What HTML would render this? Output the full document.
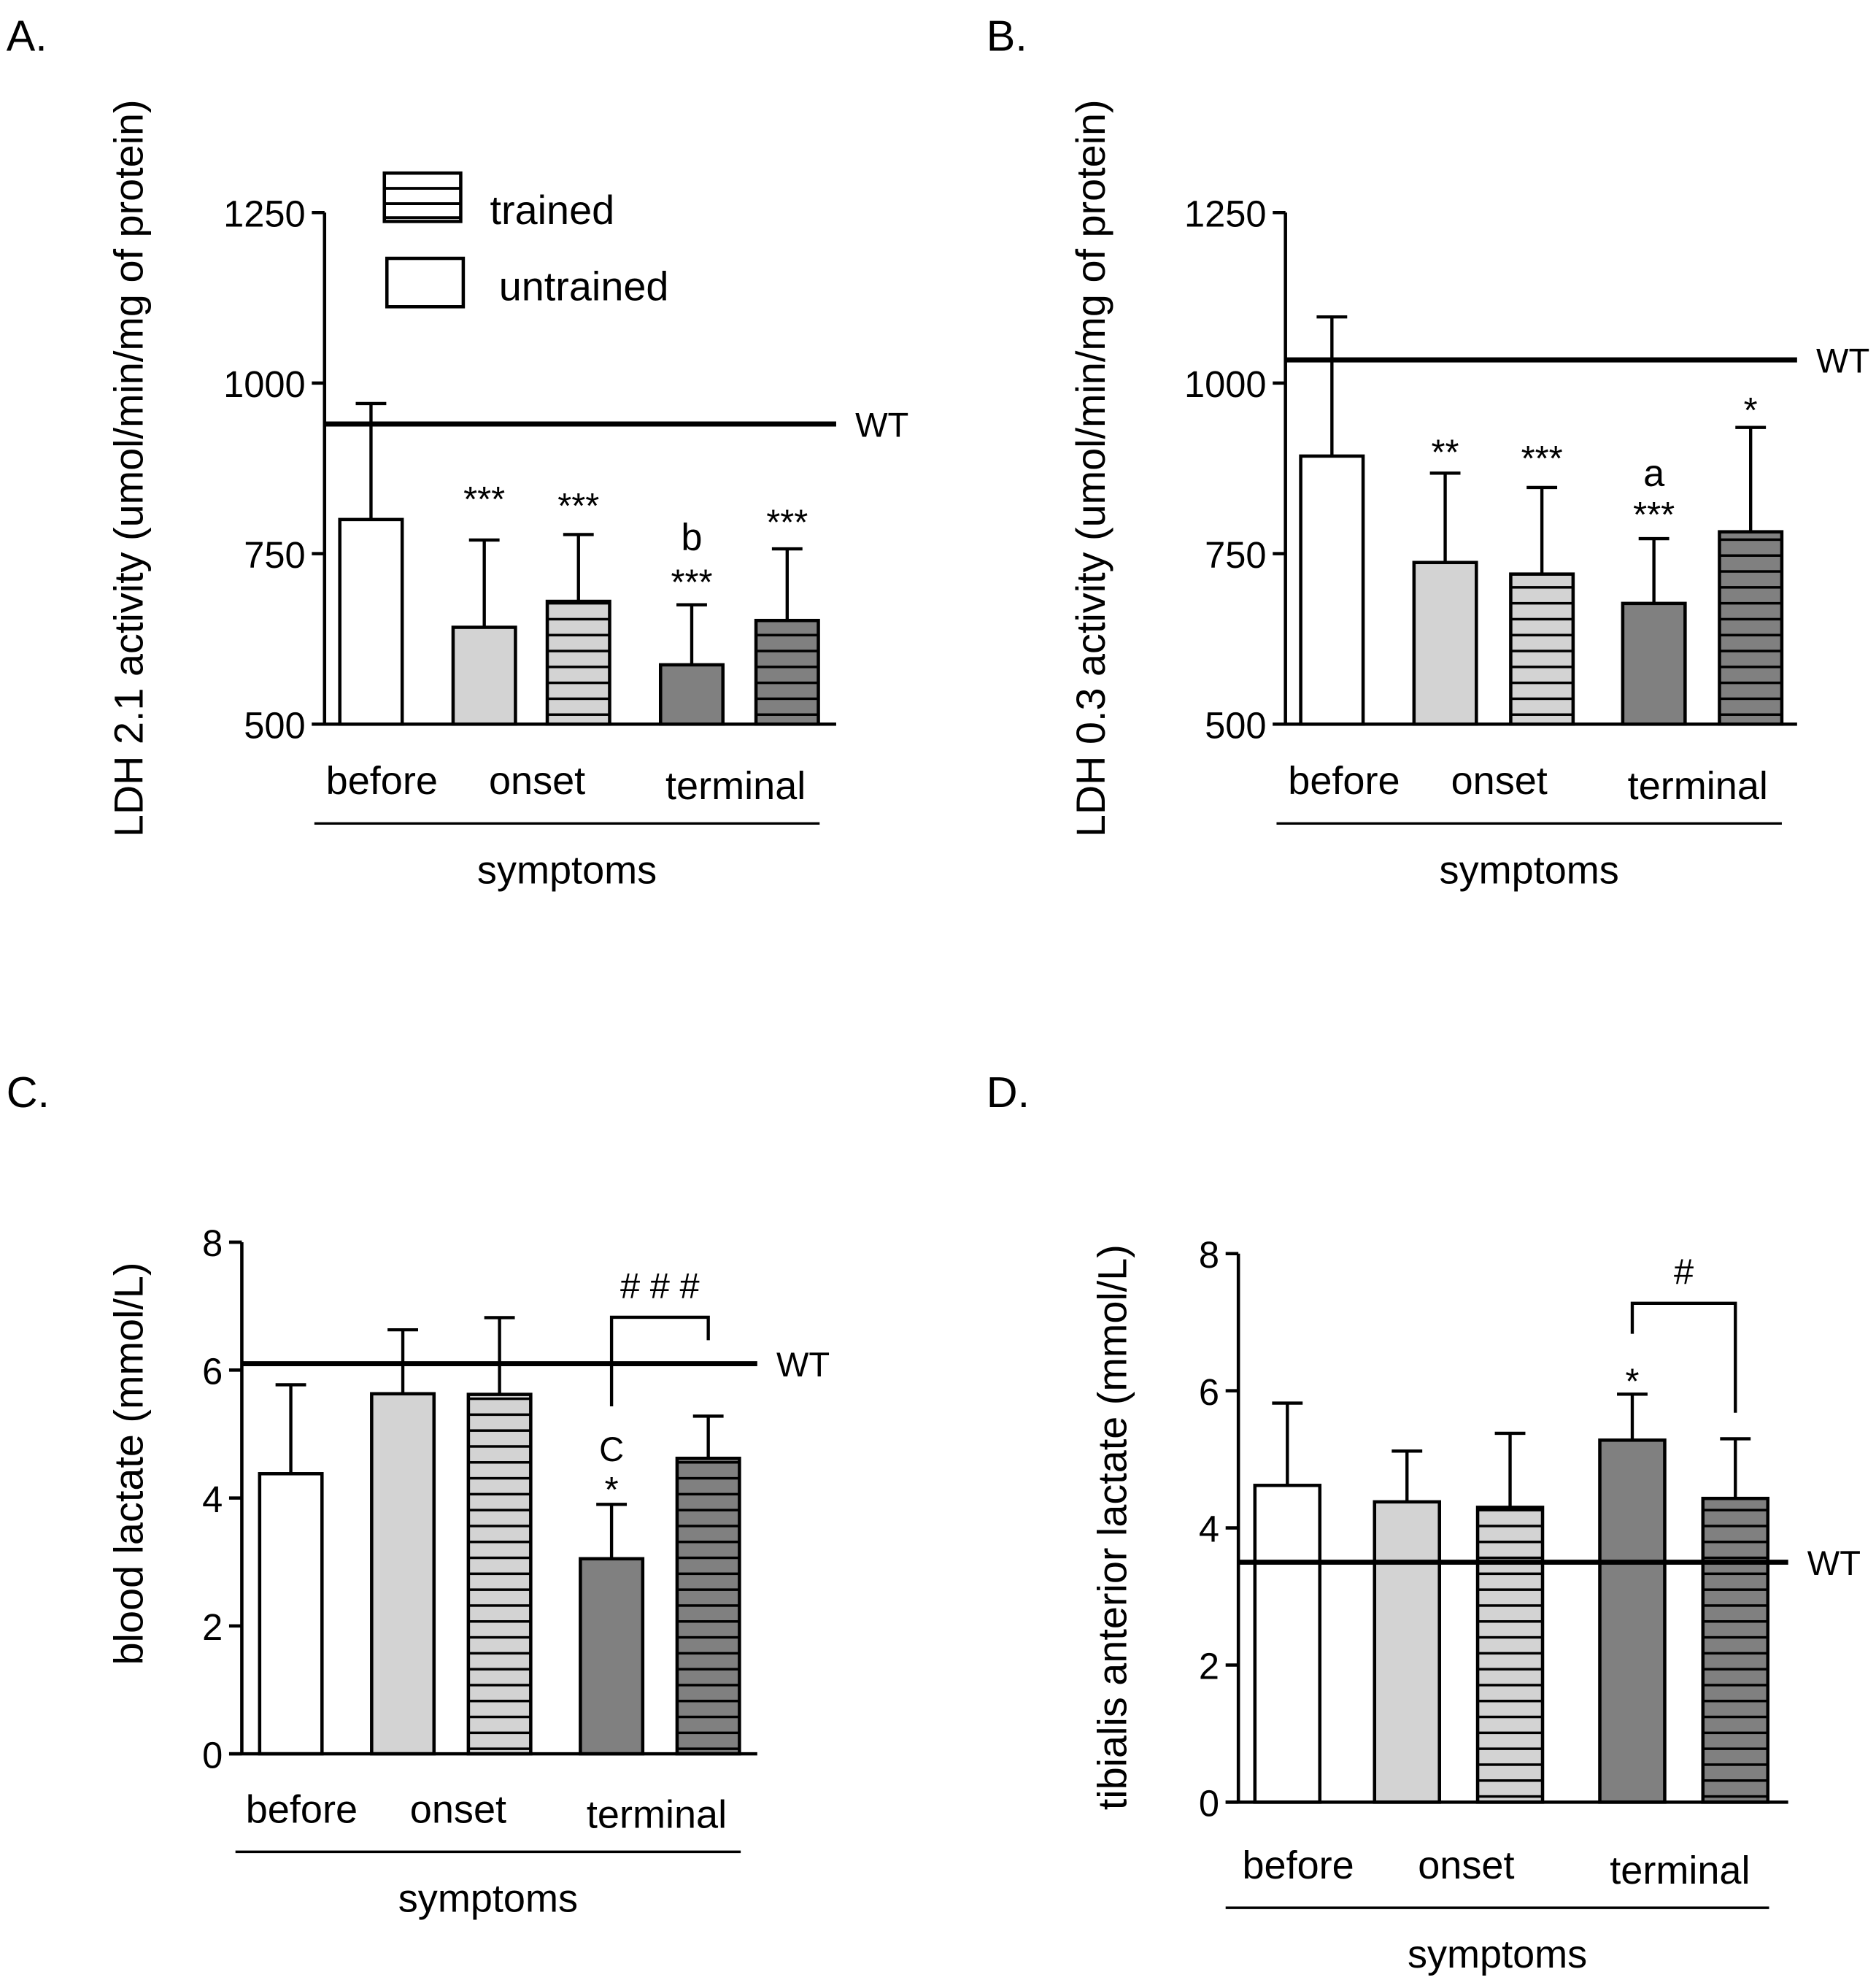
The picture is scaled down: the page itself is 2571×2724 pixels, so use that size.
<!DOCTYPE html>
<html><head><meta charset="utf-8"><style>
html,body{margin:0;padding:0;background:#fff;}
svg{display:block;font-family:"Liberation Sans",Arial,sans-serif;}
</style></head><body>
<svg id="fig" xmlns="http://www.w3.org/2000/svg" width="2571" height="2724" viewBox="0 0 1474 1562" preserveAspectRatio="none">
<defs>
<pattern id="hatchLight" patternUnits="userSpaceOnUse" width="10" height="12.5"><rect width="10" height="12.5" fill="#d3d3d3"/><line x1="0" y1="11.5" x2="10" y2="11.5" stroke="#000" stroke-width="2"/></pattern>
<pattern id="hatchDark" patternUnits="userSpaceOnUse" width="10" height="12.5"><rect width="10" height="12.5" fill="#808080"/><line x1="0" y1="11.5" x2="10" y2="11.5" stroke="#000" stroke-width="2"/></pattern>
</defs>
<g id="root"></g>
</svg>
<script>
// Panel A data
const aValues = [800, 642, 680, 587, 652];
const aErrors = [970, 770, 778, 675, 757];
const aWT = 940;
const aTicks = [500, 750, 1000, 1250];
// Panel B data
const bValues = [893, 737, 720, 677, 782];
const bErrors = [1097, 868, 847, 772, 935];
const bWT = 1034;
const bTicks = [500, 750, 1000, 1250];
// Panel C data
const cValues = [4.38, 5.63, 5.62, 3.05, 4.62];
const cErrors = [5.77, 6.63, 6.82, 3.9, 5.28];
const cWT = 6.1;
const cTicks = [0, 2, 4, 6, 8];
// Panel D data
const dValues = [4.62, 4.38, 4.3, 5.28, 4.43];
const dErrors = [5.82, 5.12, 5.38, 5.95, 5.3];
const dWT = 3.5;
const dTicks = [0, 2, 4, 6, 8];
const categories = ["before", "onset", "terminal"];
const fills = ["#ffffff", "#d3d3d3", "url(#hatchLight)", "#808080", "url(#hatchDark)"];

const NS = "http://www.w3.org/2000/svg";
const root = document.getElementById("root");
function mk(tag, attrs, parent) {
  const e = document.createElementNS(NS, tag);
  for (const k in attrs) e.setAttribute(k, attrs[k]);
  (parent || root).appendChild(e);
  return e;
}
function txt(s, x, y, size, anchor, parent) {
  const t = mk("text", {x: x, y: y, "font-size": size, "text-anchor": anchor || "middle", fill: "#000"}, parent);
  t.textContent = s;
  return t;
}

function panel(cfg) {
  const g = mk("g", {});
  
  
  const yScale = v => cfg.y0 - (v - cfg.vmin) / (cfg.vmax - cfg.vmin) * (cfg.y0 - cfg.y1);
  const L = txt(cfg.letter, cfg.letterX, cfg.letterY, 34, "start", g);
  
  
  const yt = txt(cfg.title, 0, 0, 32, "middle", g);
  yt.setAttribute("transform", "translate(" + cfg.titleX + "," + cfg.titleY + ") rotate(-90)");
  
  
  cfg.values.forEach((v, i) => {
    const x = cfg.barX[i], w = cfg.barW;
    const ye = yScale(cfg.errors[i]);
    const er = mk("path", {d: "M" + (x + w / 2) + "," + yScale(v) + "V" + ye + "M" + (x + w / 2 - 12) + "," + ye + "H" + (x + w / 2 + 12), stroke: "#000", "stroke-width": 2.5, fill: "none"}, g);
    
    
    const r = mk("rect", {x: x, y: yScale(v), width: w, height: cfg.y0 - yScale(v), fill: fills[i], stroke: "#000", "stroke-width": 2.6}, g);
    
    
  });
  const wy = yScale(cfg.wt);
  const wl = mk("line", {x1: cfg.axisX, x2: cfg.xEnd, y1: wy, y2: wy, stroke: "#000", "stroke-width": 4}, g);
  
  
  const wtt = txt("WT", cfg.xEnd + 15, wy + 10, 27, "start", g);
  
  
  const ya = mk("line", {x1: cfg.axisX, x2: cfg.axisX, y1: cfg.y1, y2: cfg.y0, stroke: "#000", "stroke-width": 2.6}, g);
  
  
  const xa = mk("line", {x1: cfg.axisX - 10, x2: cfg.xEnd, y1: cfg.y0, y2: cfg.y0, stroke: "#000", "stroke-width": 2.6}, g);
  
  
  cfg.ticks.forEach(t => {
    const y = yScale(t);
    const tk = mk("line", {x1: cfg.axisX - 10, x2: cfg.axisX, y1: y, y2: y, stroke: "#000", "stroke-width": 2.6}, g);
    
    
    const tl = txt(String(t), cfg.axisX - 15, y + 11, 29, "end", g);
    
    
  });
  categories.forEach((c, i) => {
    const ct = txt(c, cfg.catX[i], cfg.catY + (i === 2 ? 4 : 0), 31, "middle", g);
    
    
  });
  const sl = mk("line", {x1: cfg.symL, x2: cfg.symR, y1: cfg.catY + 23, y2: cfg.catY + 23, stroke: "#000", "stroke-width": 2}, g);
  
  
  const st = txt("symptoms", (cfg.symL + cfg.symR) / 2, cfg.catY + 70, 31, "middle", g);
  
  
  cfg.annot.forEach(a => {
    const at = txt(a[0], cfg.barX[a[1]] + cfg.barW / 2, a[2], a[3], "middle", g);
    
    
  });
  if (cfg.bracket) {
    const b = cfg.bracket;
    const x1 = cfg.barX[b.i] + cfg.barW / 2, x2 = cfg.barX[b.j] + cfg.barW / 2;
    const bp = mk("path", {d: "M" + x1 + "," + b.yl + "V" + b.top + "H" + x2 + "V" + b.yr, stroke: "#000", "stroke-width": 2.5, fill: "none"}, g);
    
    
    const bt = txt(b.label, (x1 + x2) / 2, b.top - 15, 28, "middle", g);
    
    
  }
}

panel({name: "panel-a", letter: "A.", letterX: 5, letterY: 40, title: "LDH 2.1 activity (umol/min/mg of protein)", titleX: 112, titleY: 368,
  values: aValues, errors: aErrors, wt: aWT, ticks: aTicks, vmin: 500, vmax: 1250, y0: 569, y1: 167,
  axisX: 255, xEnd: 657, barX: [267, 356, 430, 519, 594], barW: 49,
  catX: [300, 422, 578], catY: 624, symL: 247, symR: 644,
  annot: [["***", 1, 402, 28], ["***", 2, 407, 28], ["***", 3, 467, 28], ["b", 3, 432, 30], ["***", 4, 420, 28]]});
panel({name: "panel-b", letter: "B.", letterX: 775, letterY: 40, title: "LDH 0.3 activity (umol/min/mg of protein)", titleX: 868, titleY: 368,
  values: bValues, errors: bErrors, wt: bWT, ticks: bTicks, vmin: 500, vmax: 1250, y0: 569, y1: 167,
  axisX: 1010, xEnd: 1412, barX: [1022, 1111, 1187, 1275, 1351], barW: 49,
  catX: [1056, 1178, 1334], catY: 624, symL: 1003, symR: 1400,
  annot: [["**", 1, 365, 28], ["***", 2, 370, 28], ["a", 3, 382, 30], ["***", 3, 414, 28], ["*", 4, 332, 28]]});
panel({name: "panel-c", letter: "C.", letterX: 5, letterY: 870, title: "blood lactate (mmol/L)", titleX: 112, titleY: 1150,
  values: cValues, errors: cErrors, wt: cWT, ticks: cTicks, vmin: 0, vmax: 8, y0: 1378, y1: 976,
  axisX: 190, xEnd: 595, barX: [204, 292, 368, 456, 532], barW: 49,
  catX: [237, 360, 516], catY: 1432, symL: 185, symR: 582,
  annot: [["C", 3, 1148, 27], ["*", 3, 1180, 28]],
  bracket: {i: 3, j: 4, top: 1035, yl: 1105, yr: 1053, label: "# # #"}});
panel({name: "panel-d", letter: "D.", letterX: 775, letterY: 870, title: "tibialis anterior lactate (mmol/L)", titleX: 885, titleY: 1200,
  values: dValues, errors: dErrors, wt: dWT, ticks: dTicks, vmin: 0, vmax: 8, y0: 1416, y1: 985,
  axisX: 973, xEnd: 1405, barX: [986, 1080, 1161, 1257, 1338], barW: 51,
  catX: [1020, 1152, 1320], catY: 1476, symL: 963, symR: 1390,
  annot: [["*", 3, 1095, 28]],
  bracket: {i: 3, j: 4, top: 1024, yl: 1048, yr: 1110, label: "#"}});

const lg = mk("g", {});


const l1 = mk("rect", {x: 302, y: 136, width: 60, height: 38, fill: "#fff", stroke: "#000", "stroke-width": 2.6}, lg);


[148, 160, 171].forEach(y => {
  const hl = mk("line", {x1: 302, x2: 362, y1: y, y2: y, stroke: "#000", "stroke-width": 2.2}, lg);
  
  
});
const lt1 = txt("trained", 385, 176, 32, "start", lg);


const l2 = mk("rect", {x: 304, y: 203, width: 60, height: 38, fill: "#fff", stroke: "#000", "stroke-width": 2.6}, lg);


const lt2 = txt("untrained", 392, 236, 32, "start", lg);


</script>
</body></html>
